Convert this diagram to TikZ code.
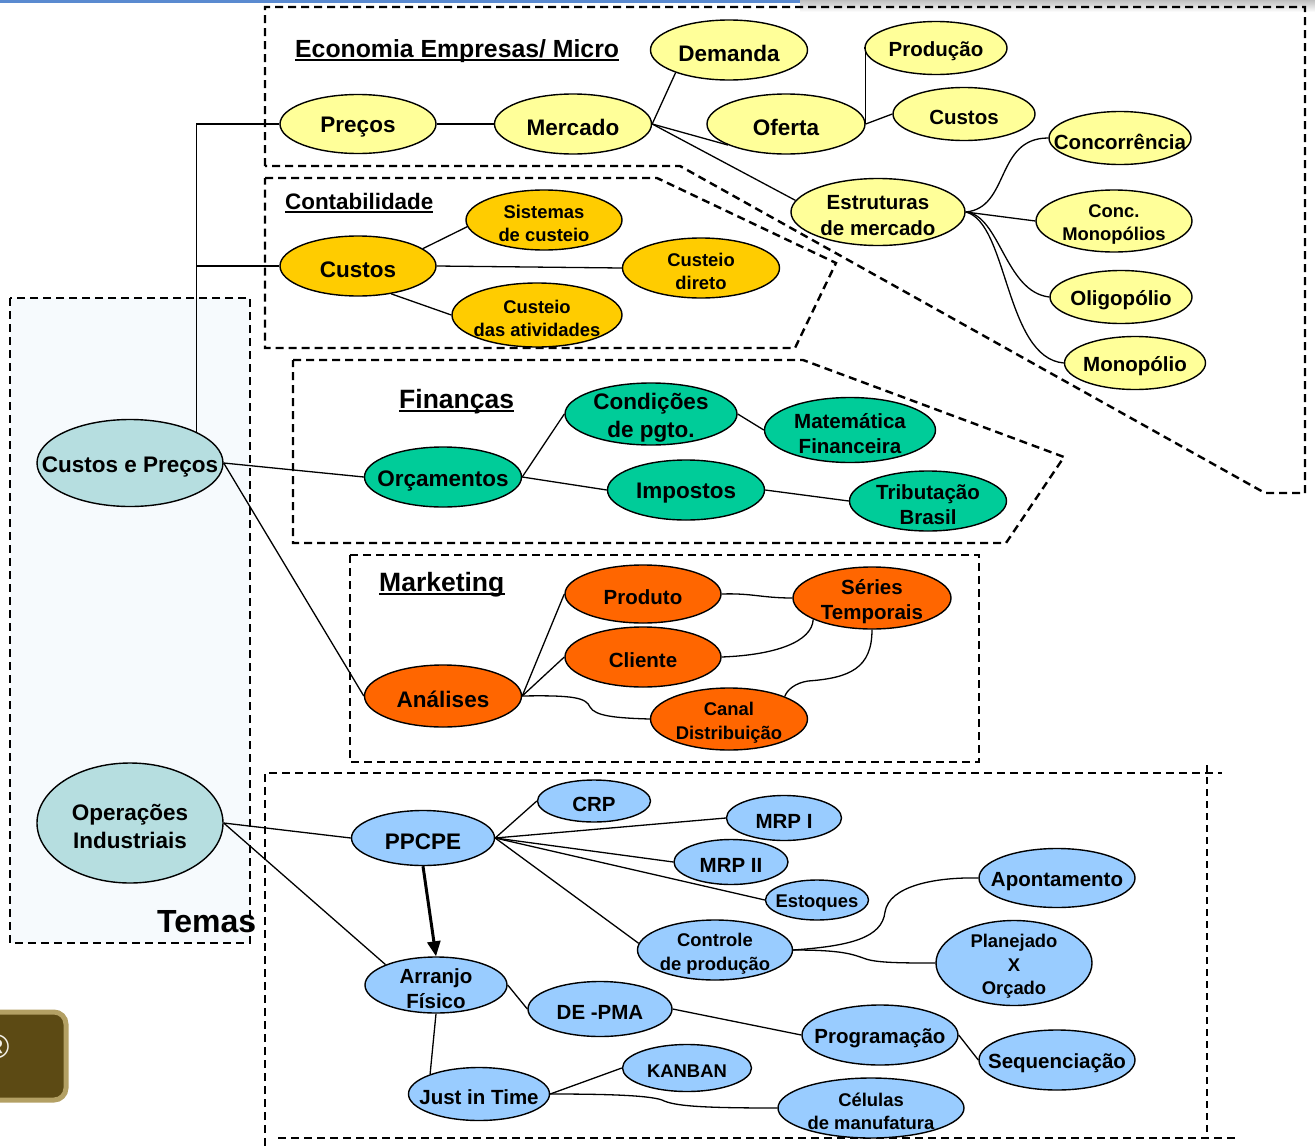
\documentclass[tikz,border=0pt]{standalone}
\usepackage{fontspec}
\setmainfont{Liberation Sans}
\usetikzlibrary{shapes.geometric, arrows.meta, positioning}

\definecolor{econyellow}{HTML}{FFFF99}
\definecolor{contabgold}{HTML}{FFCC00}
\definecolor{fingreen}{HTML}{00CC99}
\definecolor{mktorange}{HTML}{FF6600}
\definecolor{operblue}{HTML}{99CCFF}
\definecolor{temateal}{HTML}{B6DEE0}
\definecolor{temabg}{HTML}{F6FAFD}
\definecolor{slideblue}{HTML}{5A8AD0}
\definecolor{brownbox}{HTML}{5C4A14}
\definecolor{brownrim}{HTML}{B3A064}

\tikzstyle{oval} = [ellipse, draw=black, line width=1.4pt, inner sep=0pt]
\tikzstyle{ecn} = [oval, fill=econyellow]
\tikzstyle{ctb} = [oval, fill=contabgold]
\tikzstyle{fin} = [oval, fill=fingreen]
\tikzstyle{mkt} = [oval, fill=mktorange]
\tikzstyle{opr} = [oval, fill=operblue]
\tikzstyle{tem} = [oval, fill=temateal]
\tikzstyle{fbig} = [font=\fontsize{22.5}{28}\selectfont\bfseries]
\tikzstyle{fmid} = [font=\fontsize{20.5}{25.5}\selectfont\bfseries]
\tikzstyle{fsml} = [font=\fontsize{18.4}{23.5}\selectfont\bfseries]
\tikzstyle{every label} = [align=center, inner sep=0pt, yshift=-3.5pt]
\tikzstyle{title} = [inner sep=0pt, anchor=base west, text depth=3pt]
\tikzstyle{uline} = [draw, line width=1.8pt]
\tikzstyle{zone} = [draw=black, line width=2.4pt, dash pattern=on 8pt off 5pt]
\tikzstyle{thinzone} = [draw=black, line width=1.6pt, dash pattern=on 7pt off 5pt]
\tikzstyle{line} = [draw, line width=1.3pt]
\tikzstyle{arrow} = [draw, line width=3pt, -{Triangle[length=15pt,width=13pt]}]

\begin{document}
\begin{tikzpicture}[x=1pt, y=-1pt]
\useasboundingbox (0,0) rectangle (1315,1146);

% slide frame
\fill [slideblue] (0,0) rectangle (800,3);
\shade [top color=black!25, bottom color=white] (800,0) rectangle (1315,12);
\draw [line width=5pt, draw=brownrim, fill=brownbox, rounded corners=12pt] (-40,1012) rectangle (66,1100);
\node (regmark) [text=white!85!brownrim, font=\fontsize{34}{40}\selectfont] at (-3,1047) {®};

% Draw zones
\path [zone, fill=temabg] (10,298) rectangle (250,943);
\path [zone] (265,166) -- (265,7) -- (1305,7) -- (1305,493) -- (1265,493) -- (680,166) -- cycle;
\path [zone] (265,178) -- (657,178) -- (836,263) -- (795,348) -- (265,348) -- cycle;
\path [zone] (293,360) -- (803,360) -- (1064,457) -- (1006,543) -- (293,543) -- cycle;
\path [zone] (350,555) rectangle (979,762);
\path [zone] (265,1146) -- (265,773) -- (1222,773);
\path [zone] (278,1138) -- (1237,1138);
\path [thinzone] (1207,765) -- (1207,1138);

% Titles
\node (econtitle) [title, font=\fontsize{24.8}{30}\selectfont\bfseries] at (295,57) {Economia Empresas/ Micro};
\node (contabtitle) [title, font=\fontsize{22.4}{27}\selectfont\bfseries] at (285,209) {Contabilidade};
\node (fintitle) [title, font=\fontsize{26.5}{32}\selectfont\bfseries] at (399,408) {Finanças};
\node (mkttitle) [title, font=\fontsize{26.5}{32}\selectfont\bfseries] at (379,591) {Marketing};
\node (temas) [title, text depth=0pt, font=\fontsize{32}{38}\selectfont\bfseries] at (157,932) {Temas};
\path [uline] (econtitle.south west) -- (econtitle.south east);
\path [uline] (contabtitle.south west) -- (contabtitle.south east);
\path [uline] (fintitle.south west) -- (fintitle.south east);
\path [uline] (mkttitle.south west) -- (mkttitle.south east);

% Temas
\node (cep) [tem, minimum width=186, minimum height=87, label={[fbig]center:Custos e Preços}] at (130,463) {};
\node (operind) [tem, minimum width=186, minimum height=120, label={[fbig]center:{Operações\\Industriais}}] at (130,823) {};

% Economia
\node (precos) [ecn, minimum width=156, minimum height=59, label={[fbig]center:Preços}] at (358,124) {};
\node (mercado) [ecn, minimum width=157, minimum height=60, label={[fbig]center:Mercado}] at (573,124) {};
\node (demanda) [ecn, minimum width=157, minimum height=60, label={[fbig]center:Demanda}] at (729,50) {};
\node (producao) [ecn, minimum width=142, minimum height=53, label={[fmid]center:Produção}] at (936,48) {};
\node (oferta) [ecn, minimum width=158, minimum height=60, label={[fbig]center:Oferta}] at (786,124) {};
\node (custoe) [ecn, minimum width=142, minimum height=53, label={[fmid]center:Custos}] at (964,114) {};
\node (concorr) [ecn, minimum width=142, minimum height=53, label={[fmid]center:Concorrência}] at (1120,138) {};
\node (estrut) [ecn, minimum width=174, minimum height=67, label={[fmid]center:{Estruturas\\de mercado}}] at (878,212) {};
\node (concmon) [ecn, minimum width=156, minimum height=62, label={[fsml]center:{Conc.\\Monopólios}}] at (1114,221) {};
\node (oligo) [ecn, minimum width=142, minimum height=53, label={[fmid]center:Oligopólio}] at (1121,297) {};
\node (monop) [ecn, minimum width=141, minimum height=53, label={[fmid]center:Monopólio}] at (1135,363) {};

% Contabilidade
\node (custos) [ctb, minimum width=156, minimum height=60, label={[fbig]center:Custos}] at (358,266) {};
\node (sistemas) [ctb, minimum width=156, minimum height=60, label={[fsml]center:{Sistemas\\de custeio}}] at (544,220) {};
\node (atividades) [ctb, minimum width=170, minimum height=64, label={[fsml]center:{Custeio\\das atividades}}] at (537,315) {};
\node (direto) [ctb, minimum width=157, minimum height=60, label={[fsml]center:{Custeio\\direto}}] at (701,268) {};

% Financas
\node (orcam) [fin, minimum width=157, minimum height=60, label={[fbig]center:Orçamentos}] at (443,477) {};
\node (condic) [fin, minimum width=172, minimum height=62, label={[fbig]center:{Condições\\de pgto.}}] at (651,414) {};
\node (matfin) [fin, minimum width=171, minimum height=65, label={[fmid]center:{Matemática\\Financeira}}] at (850,430) {};
\node (impostos) [fin, minimum width=157, minimum height=60, label={[fbig]center:Impostos}] at (686,490) {};
\node (tribut) [fin, minimum width=157, minimum height=60, label={[fmid]center:{Tributação\\Brasil}}] at (928,501) {};

% Marketing
\node (analises) [mkt, minimum width=157, minimum height=62, label={[fbig]center:Análises}] at (443,696) {};
\node (produto) [mkt, minimum width=156, minimum height=58, label={[fmid]center:Produto}] at (643,594) {};
\node (cliente) [mkt, minimum width=156, minimum height=60, label={[fmid]center:Cliente}] at (643,657) {};
\node (series) [mkt, minimum width=158, minimum height=62, label={[fmid]center:{Séries\\Temporais}}] at (872,598) {};
\node (canal) [mkt, minimum width=157, minimum height=62, label={[fsml]center:{Canal\\Distribuição}}] at (729,719) {};

% Operacoes
\node (ppcpe) [opr, minimum width=143, minimum height=55, label={[fbig]center:PPCPE}] at (423,838) {};
\node (crp) [opr, minimum width=113, minimum height=42, label={[fmid]center:CRP}] at (594,801) {};
\node (mrp1) [opr, minimum width=115, minimum height=45, label={[fmid]center:MRP I}] at (784,818) {};
\node (mrp2) [opr, minimum width=114, minimum height=45, label={[fmid]center:MRP II}] at (731,862) {};
\node (estoq) [opr, minimum width=103, minimum height=40, label={[fsml]center:Estoques}] at (817,900) {};
\node (ctrlprod) [opr, minimum width=155, minimum height=60, label={[fsml]center:{Controle\\de produção}}] at (715,950) {};
\node (apont) [opr, minimum width=156, minimum height=59, label={[fmid]center:Apontamento}] at (1057,878) {};
\node (planorc) [opr, minimum width=156, minimum height=85, label={[fsml]center:{Planejado\\X\\Orçado}}] at (1014,963) {};
\node (arranjo) [opr, minimum width=142, minimum height=56, label={[fmid]center:{Arranjo\\Físico}}] at (436,985) {};
\node (depma) [opr, minimum width=144, minimum height=55, label={[fmid]center:DE -PMA}] at (600,1009) {};
\node (program) [opr, minimum width=156, minimum height=60, label={[fmid]center:Programação}] at (880,1035) {};
\node (sequenc) [opr, minimum width=156, minimum height=60, label={[fmid]center:Sequenciação}] at (1057,1060) {};
\node (kanban) [opr, minimum width=129, minimum height=47, label={[fsml]center:KANBAN}] at (687,1068) {};
\node (jit) [opr, minimum width=141, minimum height=53, label={[fmid]center:Just in Time}] at (479,1094) {};
\node (celulas) [opr, minimum width=186, minimum height=60, label={[fsml]center:{Células\\de manufatura}}] at (871,1108) {};

% Draw edges
\path [line] (cep.25.5) |- (precos.west);
\path [line] (cep.25.5 |- custos.west) -- (custos.west);
\path [line] (precos) -- (mercado);
\path [line] (mercado.east) -- (demanda.203);
\path [line] (mercado.east) -- (oferta.200);
\path [line] (mercado.east) -- (estrut.172);
\path [line] (oferta.east) |- (producao.west);
\path [line] (oferta.east) -- (custoe.west);
\path [line] (estrut.east) .. controls (1010,208) and (995,138) .. (concorr.west);
\path [line] (estrut.east) -- (concmon.west);
\path [line] (estrut.east) .. controls (1000,215) and (1005,292) .. (oligo.west);
\path [line] (estrut.east) .. controls (1008,222) and (1005,358) .. (monop.west);

\path [line] (custos.15) -- (sistemas.185);
\path [line] (custos.east) -- (direto.west);
\path [line] (custos.-40) -- (atividades.west);

\path [line] (cep.east) -- (orcam.west);
\path [line] (cep.east) -- (analises.west);
\path [line] (orcam.east) -- (condic.west);
\path [line] (orcam.east) -- (impostos.west);
\path [line] (condic.east) -- (matfin.west);
\path [line] (impostos.east) -- (tribut.west);

\path [line] (analises.east) -- (produto.west);
\path [line] (analises.east) -- (cliente.west);
\path [line] (analises.east) .. controls (575,695) and (586,698) .. (590,707) .. controls (595,716) and (615,718) .. (canal.west);
\path [line] (produto.east) .. controls (752,593) and (762,598) .. (series.west);
\path [line] (cliente.east) .. controls (775,655) and (812,642) .. (series.200);
\path [line] (series.south) .. controls (872,668) and (850,678) .. (808,681) .. controls (795,683) and (787,690) .. (canal.22);

\path [line] (operind.east) -- (ppcpe.west);
\path [line] (operind.east) -- (arranjo.158);
\path [line] (ppcpe.east) -- (crp.west);
\path [line] (ppcpe.east) -- (mrp1.west);
\path [line] (ppcpe.east) -- (mrp2.west);
\path [line] (ppcpe.east) -- (estoq.west);
\path [line] (ppcpe.east) -- (ctrlprod.175);
\path [arrow] (ppcpe.south) -- (arranjo.north);
\path [line] (ctrlprod.east) .. controls (850,946) and (882,938) .. (885,912) .. controls (889,886) and (935,877) .. (apont.west);
\path [line] (ctrlprod.east) .. controls (842,950) and (852,954) .. (866,959) .. controls (878,963) and (905,963) .. (planorc.west);
\path [line] (arranjo.east) -- (depma.west);
\path [line] (depma.east) -- (program.west);
\path [line] (program.east) -- (sequenc.west);
\path [line] (arranjo.south) -- (jit.158);
\path [line] (jit.east) -- (kanban.west);
\path [line] (jit.east) .. controls (600,1094) and (648,1095) .. (662,1100) .. controls (674,1106) and (700,1108) .. (celulas.west);

\end{tikzpicture}
\end{document}
